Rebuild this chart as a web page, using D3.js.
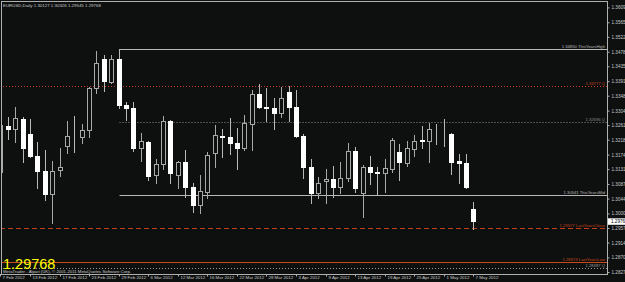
<!DOCTYPE html>
<html><head><meta charset="utf-8">
<script src="https://cdn.jsdelivr.net/npm/d3@7"></script>
<style>html,body{margin:0;padding:0;background:#0e1010;overflow:hidden}svg{display:block}</style>
</head><body>
<svg id="c" width="625" height="282"></svg>
<script>
const dates = ["2012-02-07","2012-02-08","2012-02-09","2012-02-10","2012-02-13","2012-02-14","2012-02-15","2012-02-16","2012-02-17","2012-02-20","2012-02-21","2012-02-22","2012-02-23","2012-02-24","2012-02-27","2012-02-28","2012-02-29",
"2012-03-01","2012-03-02","2012-03-05","2012-03-06","2012-03-07","2012-03-08","2012-03-09","2012-03-12","2012-03-13","2012-03-14","2012-03-15","2012-03-16","2012-03-19","2012-03-20","2012-03-21","2012-03-22","2012-03-23","2012-03-26","2012-03-27","2012-03-28","2012-03-29","2012-03-30",
"2012-04-02","2012-04-03","2012-04-04","2012-04-05","2012-04-06","2012-04-09","2012-04-10","2012-04-11","2012-04-12","2012-04-13","2012-04-16","2012-04-17","2012-04-18","2012-04-19","2012-04-20","2012-04-23","2012-04-24","2012-04-25","2012-04-26","2012-04-27","2012-04-30",
"2012-05-01","2012-05-02","2012-05-03","2012-05-04","2012-05-07"];
const opens = [1.31225,1.32584,1.32496,1.32791,1.32348,1.31698,1.31255,1.30575,1.31284,1.31993,1.32300,1.32259,1.32466,1.33707,1.34564,1.33885,1.34564,
1.33205,1.33116,1.31934,1.32112,1.31136,1.31461,1.32732,1.31136,1.31521,1.30782,1.30250,1.30634,1.31786,1.32289,1.32259,1.32082,1.31934,1.32643,1.33530,1.33146,1.33116,1.32968,
1.33589,1.33146,1.32289,1.31373,1.30604,1.30959,1.31018,1.30782,1.31048,1.31846,1.30604,1.31373,1.31225,1.31195,1.31314,1.31816,1.31491,1.31905,1.32171,1.32141,1.32348,
1.32348,1.32348,1.31550,1.31491,1.30127];
const highs = [1.32762,1.32850,1.33146,1.32850,1.32791,1.32112,1.31875,1.31550,1.31934,1.32732,1.32880,1.32643,1.33737,1.34790,1.34682,1.34682,1.34850,
1.33294,1.33294,1.32377,1.32140,1.31609,1.32880,1.32760,1.31540,1.31875,1.30900,1.31136,1.31816,1.32614,1.32496,1.32821,1.32525,1.32909,1.33648,1.33825,1.33707,1.33412,1.33737,
1.33766,1.33648,1.32348,1.31609,1.31077,1.31314,1.31402,1.31521,1.32082,1.31964,1.31432,1.31698,1.31373,1.31609,1.32230,1.32052,1.32141,1.32318,1.32584,1.32673,1.32643,
1.32791,1.32377,1.31757,1.31757,1.30326];
const lows = [1.30841,1.32200,1.32112,1.31521,1.31668,1.30752,1.30398,1.29718,1.31107,1.31786,1.31816,1.32082,1.32259,1.33559,1.33619,1.33855,1.33116,
1.32762,1.31846,1.31550,1.30989,1.30900,1.31314,1.30900,1.30752,1.30486,1.30043,1.30013,1.30457,1.31373,1.31668,1.31757,1.31314,1.31875,1.31875,1.33116,1.32732,1.32496,1.32850,
1.32732,1.32270,1.31048,1.30309,1.30457,1.30309,1.30486,1.30604,1.30959,1.30634,1.29895,1.30870,1.30545,1.30634,1.31225,1.30989,1.31402,1.31698,1.31934,1.31521,1.32052,
1.31993,1.31166,1.30900,1.30752,1.29545];
const closes = [1.32614,1.32496,1.32821,1.31934,1.31698,1.31255,1.30575,1.31255,1.31373,1.32289,1.32280,1.32466,1.33707,1.34446,1.33914,1.34564,1.33205,
1.33116,1.31934,1.32141,1.31107,1.31461,1.32732,1.31195,1.31521,1.30782,1.30250,1.30664,1.31727,1.32318,1.32259,1.32082,1.31934,1.32673,1.33530,1.33146,1.33130,1.32968,1.33412,
1.33146,1.32289,1.31373,1.30604,1.30900,1.31018,1.30782,1.31048,1.31846,1.30752,1.31373,1.31225,1.31195,1.31343,1.32171,1.31521,1.31934,1.32141,1.32141,1.32496,1.32335,
1.32335,1.31521,1.31491,1.30782,1.29768];
const priceTicks = [1.28270,1.28700,1.29140,1.29570,1.30000,1.30440,1.30870,1.31310,1.31740,1.32180,1.32610,1.33040,1.33480,1.33910,1.34350,1.34780,1.35220,1.35650,1.36090];
const levelValues = [1.34850,1.33777,1.32696,1.30541,1.29577,1.28573,1.28387];
const levelLabels = ["1.34850 ThisYearsHigh","1.33777 Q","1.32696 Q","1.30541 ThisYearsMid","1.29577 LastYearsClose","1.28573 LastYearsLow","1.28387 Q"];
const levelStart = ["2012-02-29",null,"2012-02-29","2012-02-29",null,null,null];
const symbolTitle = "EURUSD,Daily";
const lastPrice = 1.29768;
const copyright = "MetaTrader - Alpari (UK), \u00a9 2001-2011 MetaQuotes Software Corp.";

const W=625,H=282, plotR=607, plotB=274;
const bg="#0e1010";
const FF="Liberation Sans, Arial, sans-serif";
const svg=d3.select("#c");
svg.append("rect").attr("width",W).attr("height",H).attr("fill",bg);

const x=d3.scalePoint().domain(dates).range([0.4,473.4]);
const y=d3.scaleLinear().domain([1.28270,1.36090]).range([272,7.4]);
const px=d=>Math.round(x(d))+0.5;
const py=v=>Math.round(y(v))+0.5;

svg.append("clipPath").attr("id","clip").append("rect").attr("x",1).attr("y",1).attr("width",plotR-1).attr("height",plotB-1);
const g=svg.append("g").attr("clip-path","url(#clip)");

// level lines
const levelStyle=[
 {c:"#b8b8b8",dash:null},
 {c:"#c0401c",dash:"1,2"},
 {c:"#8a8a8a",dash:"1,2"},
 {c:"#b8b8b8",dash:null},
 {c:"#c0401c",dash:"5,3"},
 {c:"#c84a18",dash:null},
 {c:"#9a9a9a",dash:"1,2"}
];
levelValues.forEach((v,k)=>{
  const st=levelStyle[k];
  const x0=levelStart[k]?px(levelStart[k]):0;
  g.append("line").attr("x1",x0).attr("x2",plotR).attr("y1",py(v)).attr("y2",py(v))
   .attr("stroke",st.c).attr("stroke-width",1).attr("stroke-dasharray",st.dash);
  g.append("text").attr("x",605).attr("y",py(v)-1.5).attr("text-anchor","end")
   .attr("font-family",FF).attr("font-size",4.2)
   .attr("fill",st.c).text(levelLabels[k]);
});

// candles
const data=dates.map((d,i)=>({d,o:opens[i],h:highs[i],l:lows[i],c:closes[i]}));
const cg=g.append("g");
data.forEach(b=>{
  const cx=px(b.d);
  const bull=b.c>=b.o;
  cg.append("line").attr("x1",cx).attr("x2",cx).attr("y1",Math.round(y(b.h))).attr("y2",Math.round(y(b.l))+1)
    .attr("stroke",bull?"#a8a8a8":"#b8b8b8").attr("stroke-width",1);
  const top=Math.round(y(Math.max(b.o,b.c))), bot=Math.round(y(Math.min(b.o,b.c)));
  const h=Math.max(0,bot-top);
  cg.append("rect").attr("x",cx-2).attr("y",top+0.5).attr("width",4).attr("height",h)
    .attr("fill",bull?bg:"#ffffff").attr("stroke",bull?"#a8a8a8":"#ffffff").attr("stroke-width",1);
});

// frame
svg.append("line").attr("x1",1.5).attr("x2",1.5).attr("y1",1).attr("y2",plotB).attr("stroke","#b0b0b0");
svg.append("line").attr("x1",1).attr("x2",plotR).attr("y1",1.5).attr("y2",1.5).attr("stroke","#b0b0b0");
svg.append("line").attr("x1",plotR+0.5).attr("x2",plotR+0.5).attr("y1",1).attr("y2",plotB+1).attr("stroke","#b0b0b0");
svg.append("line").attr("x1",0).attr("x2",plotR+1).attr("y1",plotB+0.5).attr("y2",plotB+0.5).attr("stroke","#b0b0b0");

// y axis
const ya=svg.append("g").attr("transform",`translate(${plotR+0.5},0)`)
  .call(d3.axisRight(y).tickValues(priceTicks).tickSize(2).tickFormat(d3.format(".5f")));
ya.select(".domain").remove();
ya.selectAll("line").attr("stroke","#b0b0b0");
ya.selectAll("text").attr("fill","#c8c8c8").attr("font-size",4.6).attr("font-family",FF).attr("x",4);

// current price marker
svg.append("rect").attr("x",608).attr("y",y(lastPrice)-3).attr("width",17).attr("height",6.5).attr("fill","#ffffff");
svg.append("text").attr("x",611).attr("y",y(lastPrice)+1.8).attr("font-size",4.6).attr("font-family",FF)
  .attr("fill","#000").text(d3.format(".5f")(lastPrice));

// x axis
const fmt=d3.timeFormat("%-d %b %Y"), parse=d3.timeParse("%Y-%m-%d");
const xTicks=dates.filter((d,i)=>i%4===0);
const xa=svg.append("g").attr("transform",`translate(0,${plotB+0.5})`)
  .call(d3.axisBottom(x).tickValues(xTicks).tickSize(2).tickFormat(d=>fmt(parse(d))));
xa.select(".domain").remove();
xa.selectAll(".tick").attr("transform",d=>`translate(${px(d)},0)`);
xa.selectAll("line").attr("stroke","#b0b0b0");
xa.selectAll("text").attr("fill","#c8c8c8").attr("font-size",4.4).attr("font-family",FF)
  .attr("text-anchor","start").attr("x",2).attr("y",1.5).attr("dy","0.71em");

// title
svg.append("text").attr("x",3).attr("y",7).attr("font-size",4.4).attr("font-family",FF).attr("fill","#c8c8c8")
  .text(`${symbolTitle}  ${d3.format(".5f")(opens[opens.length-1])} ${d3.format(".5f")(highs[highs.length-1])} ${d3.format(".5f")(lows[lows.length-1])} ${d3.format(".5f")(closes[closes.length-1])}`);

// big price
svg.append("text").attr("x",3).attr("y",269).attr("font-size",14.5).attr("font-family",FF).attr("fill","#ffff00")
  .text(d3.format(".5f")(lastPrice));
svg.append("text").attr("x",3).attr("y",272.5).attr("font-size",4.3).attr("font-family",FF).attr("fill","#c8c8c8")
  .text(copyright);
</script>
</body></html>
